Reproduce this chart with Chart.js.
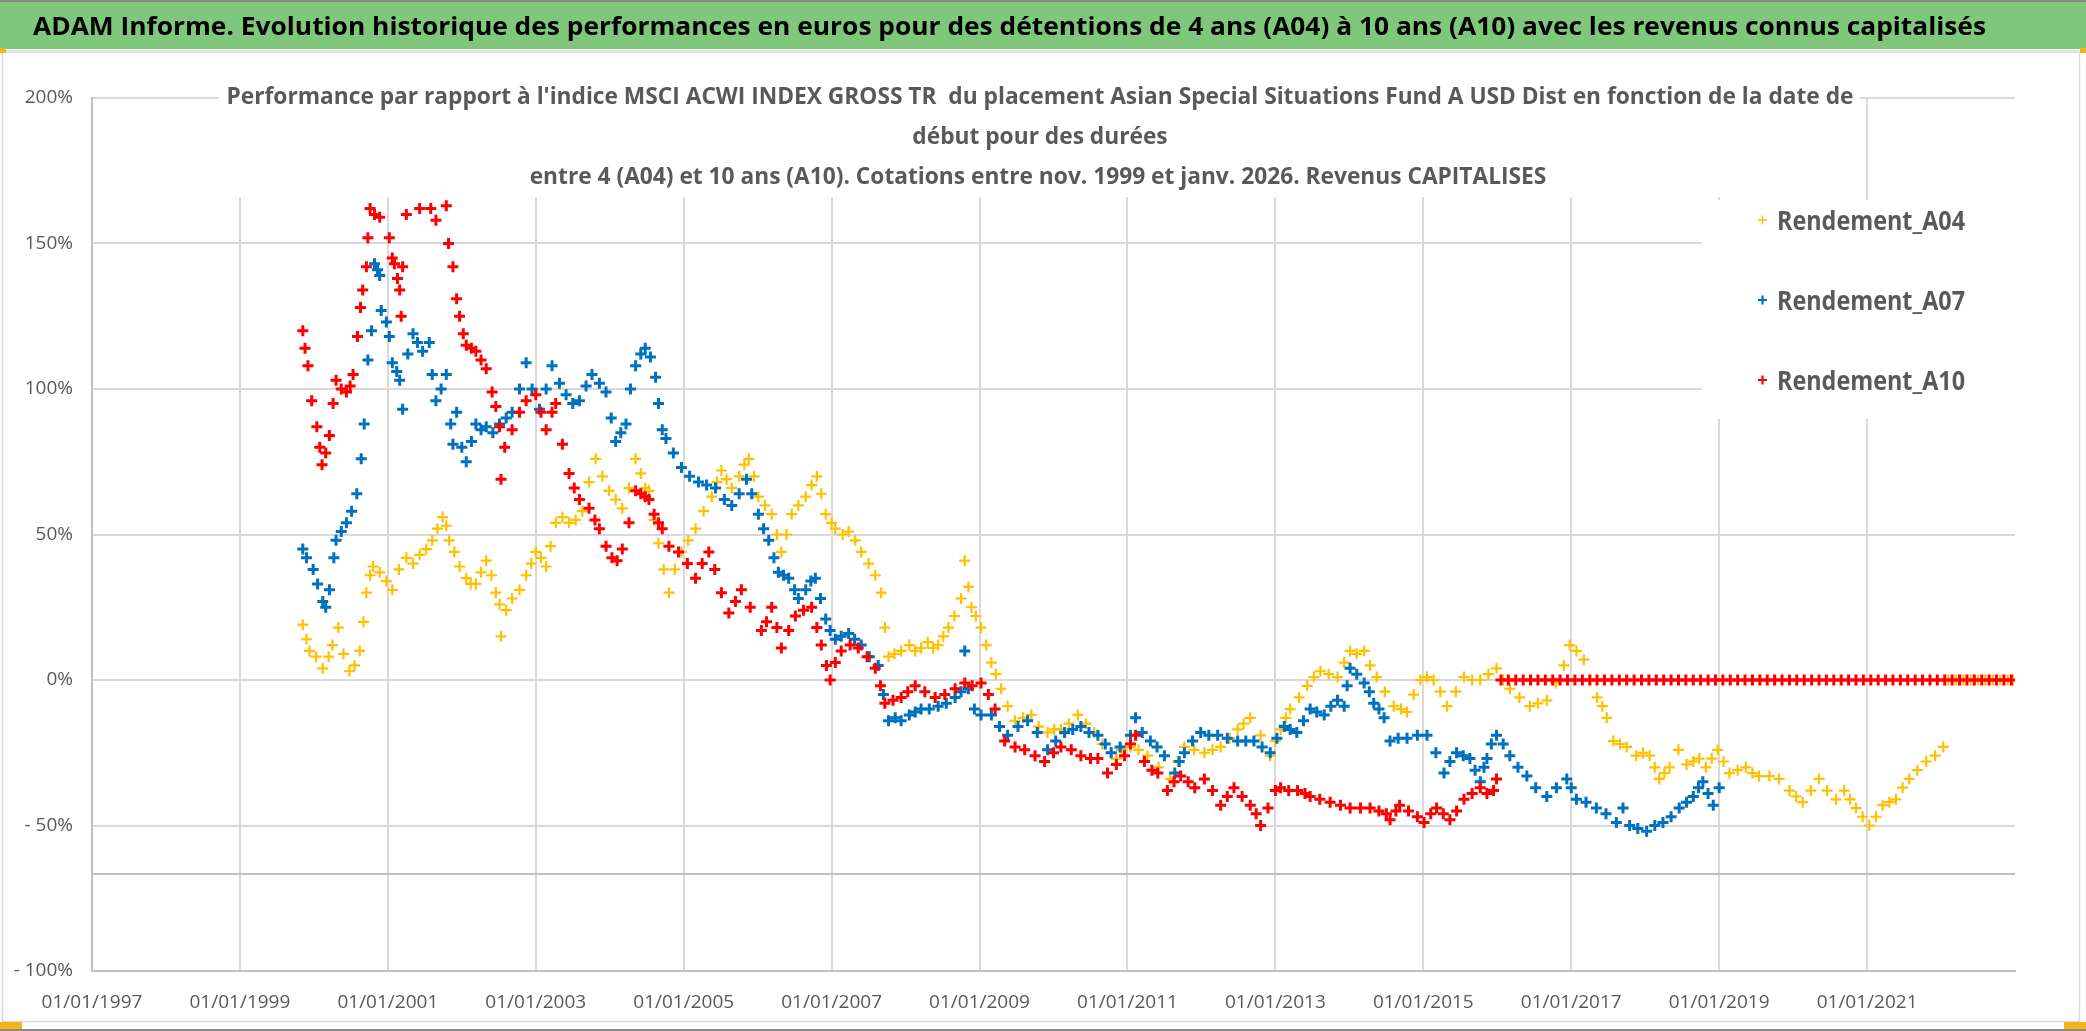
<!DOCTYPE html>
<html>
<head>
<meta charset="utf-8">
<script src="https://cdn.jsdelivr.net/npm/chart.js@4.4.1/dist/chart.umd.min.js"></script>
<style>
html,body{margin:0;padding:0;background:#fff;overflow:hidden;}
canvas{display:block;}
</style>
</head>
<body>
<canvas id="c" width="2086" height="1031" style="width:2086px;height:1031px"></canvas>
<script>
// ---------- Texts ----------
const bannerTitle = "ADAM Informe. Evolution historique des performances en euros pour des détentions de 4 ans (A04) à 10 ans (A10) avec les revenus connus capitalisés";
const subtitleLines = [
  "Performance par rapport à l'indice MSCI ACWI INDEX GROSS TR  du placement Asian Special Situations Fund A USD Dist en fonction de la date de",
  "début pour des durées",
  "entre 4 (A04) et 10 ans (A10). Cotations entre nov. 1999 et janv. 2026. Revenus CAPITALISES"
];
const seriesNames = ["Rendement_A04", "Rendement_A07", "Rendement_A10"];

// ---------- Axis ticks ----------
const xTickYears = [1997, 1999, 2001, 2003, 2005, 2007, 2009, 2011, 2013, 2015, 2017, 2019, 2021];
const yTickValues = [-100, -50, 0, 50, 100, 150, 200];

// ---------- Series A04 (start date in decimal years, performance %) ----------
const a04Years = [1999.85,1999.90,1999.94,2000.03,2000.12,2000.20,2000.25,2000.33,2000.40,2000.48,2000.55,2000.62,2000.67,2000.71,2000.76,2000.80,2000.89,2000.98,2001.06,2001.15,2001.25,2001.34,2001.43,2001.52,2001.60,2001.67,2001.74,2001.79,2001.83,2001.90,2001.97,2002.06,2002.12,2002.19,2002.26,2002.33,2002.40,2002.46,2002.51,2002.53,2002.60,2002.68,2002.78,2002.87,2002.94,2003.00,2003.07,2003.14,2003.20,2003.27,2003.36,2003.45,2003.54,2003.63,2003.72,2003.81,2003.90,2003.99,2004.08,2004.17,2004.26,2004.35,2004.42,2004.48,2004.53,2004.60,2004.66,2004.73,2004.80,2004.88,2004.97,2005.06,2005.16,2005.27,2005.38,2005.45,2005.51,2005.58,2005.65,2005.75,2005.82,2005.88,2005.95,2006.01,2006.10,2006.19,2006.26,2006.32,2006.39,2006.46,2006.55,2006.65,2006.73,2006.80,2006.86,2006.92,2007.00,2007.05,2007.15,2007.23,2007.32,2007.40,2007.50,2007.59,2007.67,2007.72,2007.77,2007.85,2007.94,2008.05,2008.13,2008.21,2008.30,2008.37,2008.44,2008.51,2008.58,2008.66,2008.75,2008.80,2008.85,2008.89,2008.95,2009.02,2009.09,2009.16,2009.22,2009.29,2009.38,2009.48,2009.59,2009.70,2009.80,2009.92,2010.01,2010.10,2010.21,2010.33,2010.44,2010.55,2010.66,2010.78,2010.85,2010.92,2011.04,2011.15,2011.27,2011.42,2011.58,2011.68,2011.77,2011.90,2012.04,2012.15,2012.26,2012.38,2012.49,2012.57,2012.66,2012.80,2012.93,2013.00,2013.07,2013.14,2013.20,2013.32,2013.43,2013.52,2013.61,2013.72,2013.84,2013.93,2014.01,2014.10,2014.20,2014.28,2014.37,2014.48,2014.60,2014.70,2014.78,2014.87,2014.96,2015.05,2015.14,2015.23,2015.32,2015.44,2015.55,2015.66,2015.77,2015.88,2015.99,2016.08,2016.17,2016.30,2016.44,2016.55,2016.67,2016.79,2016.90,2016.98,2017.07,2017.17,2017.26,2017.35,2017.42,2017.48,2017.57,2017.66,2017.75,2017.88,2017.97,2018.06,2018.13,2018.19,2018.26,2018.33,2018.45,2018.56,2018.65,2018.73,2018.82,2018.90,2018.98,2019.06,2019.14,2019.25,2019.36,2019.45,2019.54,2019.68,2019.81,2019.95,2020.04,2020.13,2020.24,2020.35,2020.46,2020.58,2020.69,2020.77,2020.85,2020.94,2021.03,2021.12,2021.21,2021.30,2021.39,2021.48,2021.57,2021.68,2021.80,2021.92,2022.03,
  2022.10,2022.20,2022.30,2022.40,2022.50,2022.60,2022.70,2022.80,2022.90,2022.97];
const a04Values = [19,14,10,8,4,8,12,18,9,3,5,10,20,30,36,39,37,34,31,38,42,40,43,45,48,52,56,53,48,44,39,35,33,33,37,41,36,30,26,15,24,28,31,36,40,44,42,39,46,54,56,54,55,58,68,76,70,65,62,59,66,76,71,66,65,55,47,38,30,38,44,48,52,58,63,68,72,69,66,70,74,76,70,63,60,57,50,44,50,57,60,63,67,70,64,57,54,52,50,51,48,44,40,36,30,18,8,9,10,12,10,11,13,11,12,15,18,22,28,41,32,25,22,18,12,6,2,-3,-9,-14,-13,-12,-16,-18,-17,-17,-15,-12,-15,-18,-22,-25,-27,-24,-23,-24,-26,-30,-34,-28,-23,-24,-25,-24,-23,-20,-17,-15,-13,-19,-26,-21,-17,-13,-10,-6,-2,1,3,2,1,6,10,9,10,5,1,-4,-9,-10,-11,-5,0,1,0,-4,-9,-4,1,0,0,2,4,0,-3,-6,-9,-8,-7,-1,5,12,10,7,0,-6,-9,-13,-21,-22,-23,-26,-25,-26,-30,-34,-32,-30,-24,-29,-28,-27,-30,-27,-24,-28,-32,-31,-30,-32,-33,-33,-34,-38,-40,-42,-38,-34,-38,-41,-38,-41,-44,-47,-50,-47,-43,-42,-41,-37,-34,-31,-28,-26,-23,
  0,0,0,0,0,0,0,0,0,0];

// ---------- Series A07 ----------
const a07Years = [1999.85,1999.90,1999.99,2000.05,2000.12,2000.16,2000.21,2000.27,2000.30,2000.37,2000.44,2000.51,2000.58,2000.64,2000.68,2000.73,2000.78,2000.82,2000.86,2000.89,2000.91,2000.98,2001.02,2001.06,2001.12,2001.16,2001.20,2001.27,2001.34,2001.40,2001.47,2001.56,2001.60,2001.65,2001.72,2001.79,2001.85,2001.88,2001.93,2002.00,2002.06,2002.13,2002.19,2002.26,2002.33,2002.42,2002.51,2002.60,2002.68,2002.78,2002.87,2002.95,2003.05,2003.14,2003.22,2003.32,2003.41,2003.50,2003.59,2003.68,2003.76,2003.86,2003.95,2004.02,2004.08,2004.15,2004.22,2004.28,2004.35,2004.42,2004.48,2004.55,2004.62,2004.66,2004.71,2004.76,2004.86,2004.97,2005.08,2005.20,2005.31,2005.43,2005.55,2005.65,2005.75,2005.85,2005.92,2006.01,2006.08,2006.15,2006.22,2006.28,2006.35,2006.42,2006.50,2006.55,2006.65,2006.72,2006.78,2006.85,2006.92,2006.98,2007.05,2007.13,2007.23,2007.31,2007.40,2007.51,2007.63,2007.70,2007.77,2007.86,2007.94,2008.05,2008.13,2008.21,2008.32,2008.44,2008.55,2008.67,2008.75,2008.80,2008.85,2008.93,2009.02,2009.16,2009.27,2009.38,2009.52,2009.65,2009.78,2009.92,2010.03,2010.15,2010.26,2010.37,2010.48,2010.60,2010.70,2010.78,2010.90,2011.04,2011.11,2011.20,2011.31,2011.40,2011.50,2011.64,2011.70,2011.77,2011.88,2011.99,2012.10,2012.22,2012.35,2012.49,2012.60,2012.71,2012.82,2012.93,2013.02,2013.12,2013.20,2013.29,2013.38,2013.47,2013.56,2013.66,2013.75,2013.84,2013.93,2013.97,2014.01,2014.10,2014.20,2014.27,2014.33,2014.40,2014.47,2014.55,2014.66,2014.78,2014.92,2015.05,2015.17,2015.28,2015.36,2015.45,2015.54,2015.63,2015.70,2015.77,2015.82,2015.86,2015.92,2015.99,2016.08,2016.17,2016.28,2016.40,2016.52,2016.67,2016.80,2016.94,2017.00,2017.07,2017.20,2017.34,2017.47,2017.61,2017.70,2017.79,2017.90,2018.02,2018.13,2018.24,2018.35,2018.46,2018.56,2018.65,2018.72,2018.78,2018.85,2018.92,2019.00];
const a07Values = [45,42,38,33,27,25,31,42,48,51,54,58,64,76,88,110,120,143,141,139,127,123,118,109,106,103,93,112,119,116,113,116,105,96,100,105,88,81,92,80,75,82,88,86,87,85,88,90,92,100,109,100,93,100,108,102,98,95,96,101,105,102,99,90,82,85,88,100,108,112,114,111,104,95,86,83,78,73,70,68,67,66,62,60,64,69,64,57,52,48,42,37,36,35,31,28,31,34,35,28,21,17,14,15,16,14,12,8,5,-5,-14,-13,-14,-12,-11,-10,-10,-9,-8,-6,-4,10,-3,-10,-12,-12,-16,-19,-16,-14,-18,-24,-21,-18,-17,-16,-18,-19,-22,-25,-23,-19,-13,-18,-21,-23,-26,-32,-28,-25,-21,-18,-19,-19,-20,-21,-21,-21,-23,-25,-20,-16,-17,-18,-14,-10,-11,-12,-9,-7,-9,-2,4,2,-1,-4,-8,-10,-13,-21,-20,-20,-19,-19,-25,-32,-28,-25,-26,-27,-31,-35,-30,-27,-22,-19,-22,-26,-30,-33,-37,-40,-37,-34,-37,-41,-42,-44,-46,-49,-44,-50,-51,-52,-50,-49,-47,-44,-42,-40,-37,-35,-39,-43,-37];

// ---------- Series A10 ----------
const a10Years = [1999.85,1999.88,1999.92,1999.97,2000.04,2000.08,2000.11,2000.16,2000.21,2000.26,2000.30,2000.37,2000.44,2000.49,2000.53,2000.59,2000.63,2000.66,2000.71,2000.73,2000.76,2000.82,2000.89,2000.95,2001.02,2001.06,2001.09,2001.13,2001.16,2001.18,2001.20,2001.25,2001.29,2001.36,2001.43,2001.48,2001.52,2001.58,2001.65,2001.72,2001.79,2001.82,2001.88,2001.93,2001.97,2002.02,2002.06,2002.13,2002.19,2002.26,2002.33,2002.41,2002.46,2002.51,2002.53,2002.58,2002.68,2002.78,2002.87,2003.00,2003.07,2003.14,2003.22,2003.27,2003.36,2003.45,2003.52,2003.59,2003.72,2003.80,2003.86,2003.95,2004.03,2004.10,2004.17,2004.26,2004.35,2004.42,2004.48,2004.53,2004.60,2004.66,2004.71,2004.80,2004.93,2005.05,2005.16,2005.25,2005.34,2005.42,2005.51,2005.61,2005.70,2005.78,2005.90,2006.05,2006.12,2006.19,2006.26,2006.32,2006.42,2006.51,2006.62,2006.73,2006.80,2006.86,2006.93,2006.98,2007.05,2007.13,2007.25,2007.36,2007.48,2007.59,2007.66,2007.72,2007.83,2007.94,2008.03,2008.13,2008.26,2008.40,2008.53,2008.67,2008.80,2008.90,2009.02,2009.12,2009.21,2009.34,2009.48,2009.61,2009.75,2009.88,2010.00,2010.10,2010.24,2010.37,2010.50,2010.60,2010.73,2010.85,2010.96,2011.04,2011.11,2011.23,2011.33,2011.41,2011.54,2011.63,2011.72,2011.82,2011.91,2012.04,2012.15,2012.26,2012.35,2012.44,2012.55,2012.66,2012.74,2012.80,2012.90,2013.00,2013.07,2013.18,2013.30,2013.40,2013.47,2013.60,2013.74,2013.88,2014.01,2014.15,2014.28,2014.40,2014.50,2014.55,2014.63,2014.68,2014.80,2014.92,2015.01,2015.10,2015.18,2015.27,2015.36,2015.45,2015.55,2015.66,2015.77,2015.86,2015.95,2015.99,
  2016.05,2016.15,2016.25,2016.35,2016.45,2016.55,2016.65,2016.75,2016.85,2016.95,2017.05,2017.15,2017.25,2017.35,2017.45,2017.55,2017.65,2017.75,2017.85,2017.95,2018.05,2018.15,2018.25,2018.35,2018.45,2018.55,2018.65,2018.75,2018.85,2018.95,2019.05,2019.15,2019.25,2019.35,2019.45,2019.55,2019.65,2019.75,2019.85,2019.95,2020.05,2020.15,2020.25,2020.35,2020.45,2020.55,2020.65,2020.75,2020.85,2020.95,2021.05,2021.15,2021.25,2021.35,2021.45,2021.55,2021.65,2021.75,2021.85,2021.95,2022.05,2022.15,2022.25,2022.35,2022.45,2022.55,2022.65,2022.75,2022.85,2022.95];
const a10Values = [120,114,108,96,87,80,74,78,84,95,103,100,99,101,105,118,128,134,142,152,162,160,159,168,152,145,143,138,134,125,142,160,168,170,162,168,170,162,158,168,163,150,142,131,125,119,115,114,113,110,107,99,94,87,69,80,86,92,96,98,92,86,92,95,81,71,66,62,59,55,52,46,42,41,45,54,65,64,63,62,57,54,52,46,44,40,35,40,44,38,30,23,27,31,25,17,20,25,18,11,17,22,24,25,18,12,5,0,6,10,12,11,8,4,-2,-8,-7,-6,-4,-2,-4,-6,-5,-3,-1,-2,-1,-5,-10,-21,-23,-24,-26,-28,-25,-23,-24,-26,-27,-27,-32,-29,-26,-22,-19,-28,-31,-32,-38,-35,-33,-35,-37,-34,-38,-43,-40,-37,-40,-43,-46,-50,-44,-38,-37,-38,-38,-39,-40,-41,-42,-43,-44,-44,-44,-45,-46,-48,-45,-43,-45,-47,-49,-46,-44,-46,-48,-45,-41,-39,-37,-39,-38,-34,
  0,0,0,0,0,0,0,0,0,0,0,0,0,0,0,0,0,0,0,0,0,0,0,0,0,0,0,0,0,0,0,0,0,0,0,0,0,0,0,0,0,0,0,0,0,0,0,0,0,0,0,0,0,0,0,0,0,0,0,0,0,0,0,0,0,0,0,0,0,0];

const colA04 = '#FFC000', colA07 = '#0070C0', colA10 = '#FF0000';

function pts(xs, ys){ return xs.map((x,i)=>({x:x, y:ys[i]})); }

const FONT = "'Open Sans', 'DejaVu Sans', sans-serif";

function drawFitted(ctx, text, x, y, scaleX, font, color, align){
  ctx.save();
  ctx.font = font;
  ctx.fillStyle = color;
  ctx.textBaseline = 'alphabetic';
  ctx.textAlign = 'left';
  const w = ctx.measureText(text).width * scaleX;
  let left = x;
  if (align === 'center') left = x - w/2;
  ctx.translate(left, y);
  ctx.scale(scaleX, 1);
  ctx.fillText(text, 0, 0);
  ctx.restore();
}
function fitScale(ctx, text, font, targetW){
  ctx.save(); ctx.font = font; const w = ctx.measureText(text).width; ctx.restore();
  return targetW / w;
}

const overlayPlugin = {
  id: 'overlay',
  afterDatasetsDraw(chart){
    const ctx = chart.ctx;
    ctx.save();
    ctx.fillStyle = '#ffffff';
    ctx.fillRect(219, 60, 1641, 137);
    ctx.fillRect(1702, 200, 330, 219);
    ctx.restore();

    const subFont = "bold 24px " + FONT;
    const s = fitScale(ctx, subtitleLines[0], subFont, 1627);
    drawFitted(ctx, subtitleLines[0], 1040, 104, s, subFont, '#595959', 'center');
    drawFitted(ctx, subtitleLines[1], 1040, 144, s, subFont, '#595959', 'center');
    drawFitted(ctx, subtitleLines[2], 1038, 184, s, subFont, '#595959', 'center');

    const legFont = "bold 27px " + FONT;
    const ls = fitScale(ctx, seriesNames[0], legFont, 188);
    const legCols = [colA04, colA07, colA10];
    const legY = [230, 310, 390];
    for (let i=0;i<3;i++){
      const cy = legY[i] - 10;
      ctx.save();
      ctx.strokeStyle = legCols[i];
      ctx.lineWidth = i===0 ? 1.5 : 2.2;
      ctx.beginPath();
      ctx.moveTo(1758, cy); ctx.lineTo(1767, cy);
      ctx.moveTo(1762.5, cy-4.5); ctx.lineTo(1762.5, cy+4.5);
      ctx.stroke();
      ctx.restore();
      drawFitted(ctx, seriesNames[i], 1777, legY[i], ls, legFont, '#595959', 'left');
    }
  },
  afterDraw(chart){
    const ctx = chart.ctx;
    ctx.save();
    ctx.strokeStyle = '#d9d9d9';
    ctx.lineWidth = 1.5;
    ctx.strokeRect(2.5, 52.5, 2077, 969);
    ctx.fillStyle = '#7fc87b';
    ctx.fillRect(0, 0, 2086, 49);
    ctx.fillStyle = '#8a8a8a';
    ctx.fillRect(0, 0, 2086, 2);
    ctx.fillStyle = '#e3e3e3';
    ctx.fillRect(0, 50, 2086, 3);
    ctx.fillStyle = '#f2b418';
    ctx.fillRect(0, 48, 6, 5);
    ctx.fillRect(2080, 48, 6, 5);
    ctx.fillRect(0, 1022, 22, 7);
    ctx.fillRect(2064, 1022, 22, 7);
    ctx.fillStyle = '#8a8a8a';
    ctx.fillRect(0, 1029, 2086, 2);
    ctx.restore();
    const bFont = "bold 25px " + FONT;
    const bs = fitScale(ctx, bannerTitle, bFont, 1953);
    drawFitted(ctx, bannerTitle, 33, 35, bs, bFont, '#000000', 'left');
  }
};

const ctx = document.getElementById('c').getContext('2d');
new Chart(ctx, {
  type: 'scatter',
  data: {
    datasets: [
      { label: seriesNames[0], data: pts(a04Years, a04Values), order: 2,
        pointStyle: 'cross', pointRadius: 5.5, borderColor: colA04, backgroundColor: colA04, pointBorderWidth: 2.2, borderWidth: 2.2 },
      { label: seriesNames[1], data: pts(a07Years, a07Values), order: 1,
        pointStyle: 'cross', pointRadius: 5.5, borderColor: colA07, backgroundColor: colA07, pointBorderWidth: 3, borderWidth: 3 },
      { label: seriesNames[2], data: pts(a10Years, a10Values), order: 0,
        pointStyle: 'cross', pointRadius: 5.5, borderColor: colA10, backgroundColor: colA10, pointBorderWidth: 3, borderWidth: 3 }
    ]
  },
  options: {
    responsive: false,
    animation: false,
    devicePixelRatio: 1,
    events: [],
    layout: { padding: { top: 98, left: 0, right: 71, bottom: 0 } },
    plugins: { legend: { display: false }, tooltip: { enabled: false }, title: { display: false } },
    scales: {
      x: {
        type: 'linear', min: 1997, max: 2023,
        afterBuildTicks: (sc) => { sc.ticks = xTickYears.concat([2023]).map(v => ({ value: v })); },
        ticks: {
          autoSkip: false, maxRotation: 0, padding: 20,
          color: '#595959', font: { family: FONT, size: 19 },
          callback: (v) => xTickYears.includes(v) ? '01/01/' + v : ''
        },
        grid: {
          drawTicks: false, lineWidth: 2,
          color: (c) => (c.tick && (c.tick.value === 2023 || c.tick.value === 1997)) ? 'rgba(0,0,0,0)' : '#d9d9d9'
        },
        border: { display: true, color: '#c0c0c0', width: 2 },
        afterFit: (sc) => { sc.height = 60; }
      },
      y: {
        min: -100, max: 200,
        afterBuildTicks: (sc) => { sc.ticks = yTickValues.concat([-66.5]).map(v => ({ value: v })); },
        ticks: {
          autoSkip: false, padding: 19,
          color: '#595959', font: { family: FONT, size: 19 },
          callback: (v) => {
            if (!yTickValues.includes(v)) return '';
            if (v < 0) return '- ' + Math.abs(v) + '%';
            return v + '%';
          }
        },
        grid: {
          drawTicks: false, lineWidth: 2,
          color: (c) => (c.tick && (c.tick.value === -66.5 || c.tick.value === -100)) ? '#c0c0c0' : '#d9d9d9'
        },
        border: { display: true, color: '#c0c0c0', width: 2 },
        afterFit: (sc) => { sc.width = 92; }
      }
    }
  },
  plugins: [overlayPlugin]
});
</script>
</body>
</html>
